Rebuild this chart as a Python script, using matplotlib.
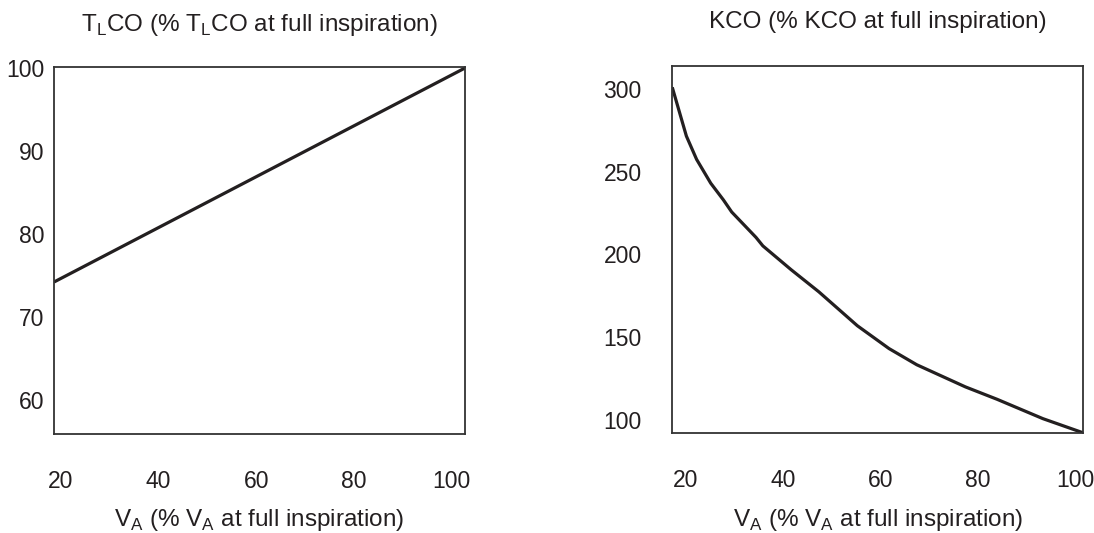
import numpy as np
import matplotlib.pyplot as plt

plt.rcParams['font.family'] = ['Liberation Sans', 'DejaVu Sans']
plt.rcParams['mathtext.fontset'] = 'custom'
plt.rcParams['mathtext.rm'] = 'Liberation Sans'

ink = '#231f20'

tlco_x = [18.6, 102.7]
tlco_y = [74.2, 100.0]

# right panel: KCO vs VA
kco_x = [17.3, 20.2, 22.3, 25.2, 27.8, 29.5, 34.5, 35.9, 41.7, 47.4,
         55.3, 61.8, 67.5, 77.5, 84.0, 93.4, 101.6]
kco_y = [301.0, 271.5, 257.4, 243.0, 232.9, 225.6, 210.2, 205.1, 190.7, 177.3,
         156.8, 143.0, 133.2, 119.8, 112.3, 100.6, 92.1]

xticks = [20, 40, 60, 80, 100]
tlco_ticks = [60, 70, 80, 90, 100]
kco_ticks = [100, 150, 200, 250, 300]

W, H = 1094, 533
fig = plt.figure(figsize=(W / 100, H / 100), dpi=100)
ax1 = fig.add_axes([0.0494, 0.1857, 0.3754, 0.6880])
ax2 = fig.add_axes([0.6145, 0.1882, 0.3757, 0.6880])

xlab = r'V$_\mathregular{A}$ (% V$_\mathregular{A}$ at full inspiration)'

def style(ax, ypad):
    for s in ax.spines.values():
        s.set_color('#333333')
        s.set_linewidth(1.3)
    ax.tick_params(length=0, labelsize=16.5, colors=ink)
    ax.tick_params(axis='x', pad=26)
    ax.tick_params(axis='y', pad=ypad)

ax1.plot(tlco_x, tlco_y, color=ink, lw=2.3, solid_capstyle='butt')
ax1.set_xlim(18.6, 102.7)
ax1.set_ylim(55.86, 100.1)
ax1.set_xticks(xticks)
ax1.set_yticks(tlco_ticks)
style(ax1, 7)
ax1.set_xlabel(xlab, fontsize=17.5, color=ink, labelpad=10)

ax2.plot(kco_x, kco_y, color=ink, lw=2.3, solid_capstyle='butt')
ax2.set_xlim(17.3, 101.7)
ax2.set_ylim(92.1, 313.9)
ax2.set_xticks(xticks)
ax2.set_yticks(kco_ticks)
style(ax2, 22)
ax2.set_xlabel(xlab, fontsize=17.5, color=ink, labelpad=11)

# titles sit well above the boxes, placed by baseline
fig.text(259 / W, 1 - 31 / H,
         r'T$_\mathregular{L}$CO (% T$_\mathregular{L}$CO at full inspiration)',
         fontsize=17.5, color=ink, ha='center', va='baseline')
fig.text(878 / W, 1 - 28 / H, 'KCO (% KCO at full inspiration)',
         fontsize=17.5, color=ink, ha='center', va='baseline')

fig.savefig('out.png', dpi=100)
